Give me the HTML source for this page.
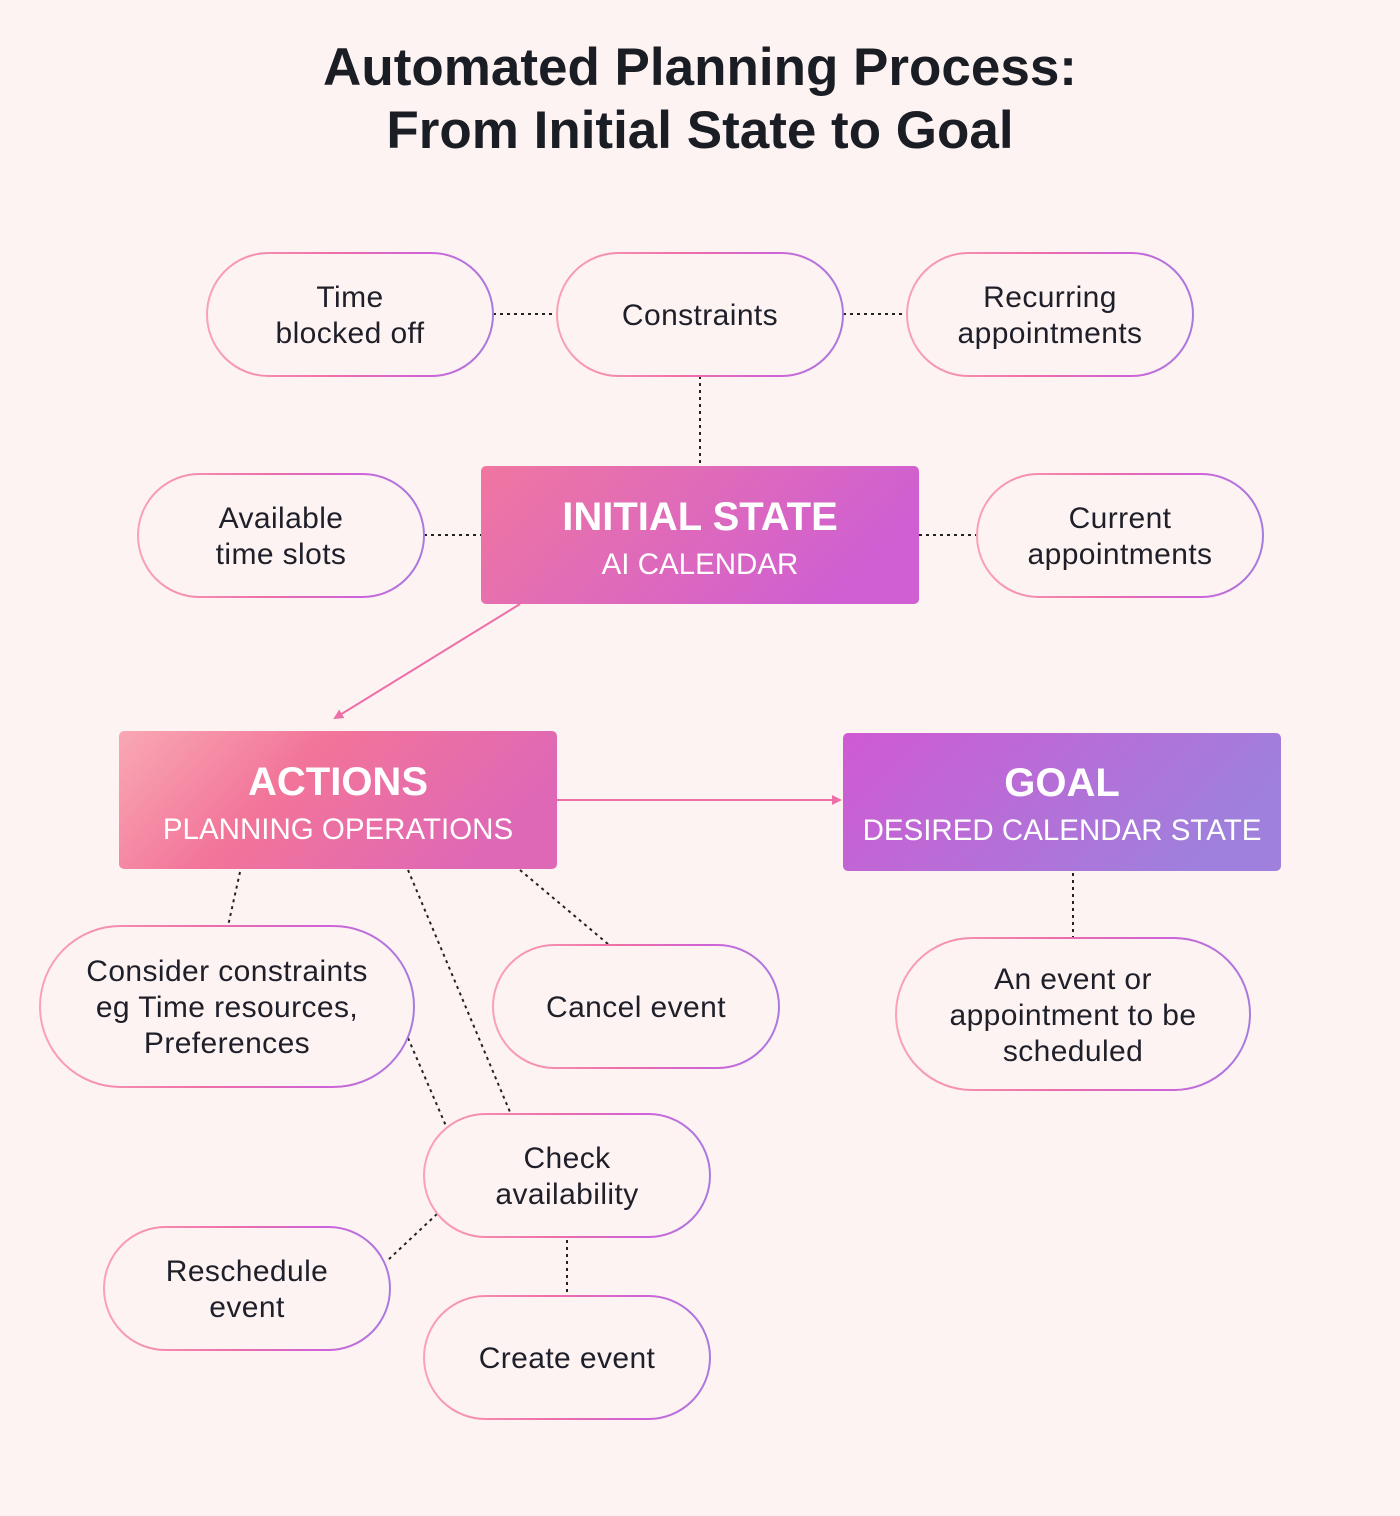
<!DOCTYPE html>
<html><head><meta charset="utf-8"><style>
body{margin:0;background:#fdf3f2;}
svg{display:block}
text{font-family:"Liberation Sans",sans-serif;}
</style></head><body>
<svg width="1400" height="1516" viewBox="0 0 1400 1516">
<defs>
<linearGradient id="pg" x1="0" y1="0" x2="1" y2="0">
<stop offset="0" stop-color="#f9a3b5"/><stop offset="0.45" stop-color="#ee6ea8"/><stop offset="0.75" stop-color="#cf62d6"/><stop offset="1" stop-color="#a77be0"/></linearGradient>
<linearGradient id="g1" x1="0" y1="0" x2="1" y2="0.3"><stop offset="0" stop-color="#f076a0"/><stop offset="1" stop-color="#cf5fd2"/></linearGradient>
<linearGradient id="g2" x1="0" y1="0" x2="1" y2="0.3"><stop offset="0" stop-color="#f9a8b4"/><stop offset="0.45" stop-color="#f27499"/><stop offset="1" stop-color="#df68b6"/></linearGradient>
<linearGradient id="g3" x1="0" y1="0" x2="1" y2="0.3"><stop offset="0" stop-color="#d05ad2"/><stop offset="1" stop-color="#9f80dc"/></linearGradient>
<marker id="ar" markerWidth="10" markerHeight="10" refX="8" refY="5" orient="auto" markerUnits="userSpaceOnUse"><path d="M0,0 L10,5 L0,10 z" fill="#ee6ea8"/></marker>
</defs>
<text x="700" y="85" text-anchor="middle" font-size="53" font-weight="bold" fill="#1a1d24">Automated Planning Process:</text>
<text x="700" y="148" text-anchor="middle" font-size="53" font-weight="bold" fill="#1a1d24">From Initial State to Goal</text>

<g stroke="#222" stroke-width="2" stroke-dasharray="3,4" fill="none">
<line x1="493" y1="314" x2="557" y2="314"/><line x1="843" y1="314" x2="907" y2="314"/>
<line x1="700" y1="376" x2="700" y2="466"/><line x1="424" y1="535" x2="481" y2="535"/>
<line x1="919" y1="535" x2="977" y2="535"/><line x1="240" y1="872" x2="228" y2="926"/>
<line x1="408" y1="870" x2="510" y2="1112"/><line x1="520" y1="870" x2="608" y2="944"/>
<line x1="408" y1="1038" x2="446" y2="1126"/><line x1="437" y1="1214" x2="388" y2="1260"/>
<line x1="567" y1="1240" x2="567" y2="1296"/><line x1="1073" y1="873" x2="1073" y2="938"/>
</g>
<g stroke="#ee6ea8" stroke-width="2" fill="none">
<line x1="520" y1="604" x2="335" y2="718" marker-end="url(#ar)"/>
<line x1="557" y1="800" x2="840" y2="800" marker-end="url(#ar)"/>
</g>

<g fill="#fdf3f2" stroke="url(#pg)" stroke-width="2">
<rect x="207" y="253" width="286" height="123" rx="61.5"/>
<rect x="557" y="253" width="286" height="123" rx="61.5"/>
<rect x="907" y="253" width="286" height="123" rx="61.5"/>
<rect x="138" y="474" width="286" height="123" rx="61.5"/>
<rect x="977" y="474" width="286" height="123" rx="61.5"/>
<rect x="40" y="926" width="374" height="161" rx="80.5"/>
<rect x="493" y="945" width="286" height="123" rx="61.5"/>
<rect x="896" y="938" width="354" height="152" rx="76"/>
<rect x="424" y="1114" width="286" height="123" rx="61.5"/>
<rect x="104" y="1227" width="286" height="123" rx="61.5"/>
<rect x="424" y="1296" width="286" height="123" rx="61.5"/>
</g>

<rect x="481" y="466" width="438" height="138" rx="5" fill="url(#g1)"/>
<rect x="119" y="731" width="438" height="138" rx="5" fill="url(#g2)"/>
<rect x="843" y="733" width="438" height="138" rx="5" fill="url(#g3)"/>
<g fill="#fff" text-anchor="middle">
<text x="700" y="530" font-size="40" font-weight="bold">INITIAL STATE</text>
<text x="700" y="574" font-size="29.5">AI CALENDAR</text>
<text x="338" y="795" font-size="40" font-weight="bold">ACTIONS</text>
<text x="338" y="839" font-size="29.5">PLANNING OPERATIONS</text>
<text x="1062" y="796" font-size="40" font-weight="bold">GOAL</text>
<text x="1062" y="840" font-size="29.5">DESIRED CALENDAR STATE</text>
</g>

<g fill="#1f1f2a" text-anchor="middle" font-size="30" letter-spacing="0.4">
<text x="350" y="307">Time</text><text x="350" y="343">blocked off</text>
<text x="700" y="325">Constraints</text>
<text x="1050" y="307">Recurring</text><text x="1050" y="343">appointments</text>
<text x="281" y="528">Available</text><text x="281" y="564">time slots</text>
<text x="1120" y="528">Current</text><text x="1120" y="564">appointments</text>
<text x="227" y="981">Consider constraints</text><text x="227" y="1017">eg Time resources,</text><text x="227" y="1053">Preferences</text>
<text x="636" y="1017">Cancel event</text>
<text x="1073" y="989">An event or</text><text x="1073" y="1025">appointment to be</text><text x="1073" y="1061">scheduled</text>
<text x="567" y="1168">Check</text><text x="567" y="1204">availability</text>
<text x="247" y="1281">Reschedule</text><text x="247" y="1317">event</text>
<text x="567" y="1368">Create event</text>
</g>
</svg>
</body></html>
